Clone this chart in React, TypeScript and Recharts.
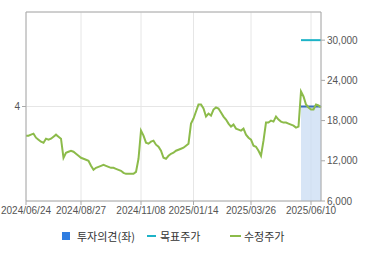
import { ComposedChart, Line, Area, XAxis, YAxis, CartesianGrid, ReferenceLine } from 'recharts'

// 수정주가, roughly every 2 trading days from 2024/06/24 to 2025/06
const prices = [
  15750, 15750, 15900, 16050, 15450, 15150, 14850, 14700, 15300, 15150,
  15300, 15600, 15900, 15600, 15300, 12450, 13200, 13350, 13500, 13350,
  13050, 12750, 12450, 12300, 12150, 12000, 11250, 10650, 10950, 11100,
  11250, 11400, 11250, 11100, 10950, 10950, 10800, 10650, 10500, 10200,
  10050, 10050, 10050, 10050, 10350, 12300, 16500, 15750, 14700, 14550,
  14850, 15000, 14400, 14100, 13500, 12450, 12300, 12750, 13050, 13200,
  13500, 13650, 13800, 13950, 14250, 14550, 17550, 18300, 19350, 20400,
  20400, 19800, 18600, 19050, 18750, 19650, 19950, 19800, 19200, 18600,
  18150, 17550, 17100, 17400, 16800, 16650, 16500, 16800, 15900, 15450,
  15150, 14250, 14100, 13500, 12750, 15000, 17700, 17700, 18000, 17850,
  18600, 18150, 17850, 17700, 17700, 17550, 17400, 17250, 16950, 17100,
  22350, 21600, 20400, 19950, 19650, 19650, 20400, 20250, 19950,
]

// 목표주가 / 투자의견 only exist for the last stretch
const targetPrice = [30000, 30000, 30000, 30000, 30000, 30000, 30000, 30000, 30000]
const opinion = [4, 4, 4, 4, 4, 4, 4, 4, 4]

const tickIdx = [0, 22, 46, 67, 90, 114]
const tickLabels = ['2024/06/24', '2024/08/27', '2024/11/08', '2025/01/14', '2025/03/26', '2025/06/10']
const rightTicks = [6000, 12000, 18000, 24000, 30000]
const RIGHT_MAX = 34200

const tailStart = prices.length - targetPrice.length

const data = prices.map((p, i) => ({
  i,
  price: p,
  target: i >= tailStart ? targetPrice[i - tailStart] : null,
  opinion: i >= tailStart ? opinion[i - tailStart] : null,
}))

const axisColor = '#aaaaaa'
const tickStyle = { fontSize: 10, fill: '#555', fontFamily: '"Liberation Sans", Arial, sans-serif' }

export default function App() {
  return (
    <div style={{ position: 'absolute', left: 0, top: 0, width: 370, height: 255, background: '#fff' }}>
      <ComposedChart width={370} height={255} data={data} margin={{ top: 12, right: 0, bottom: 34, left: 0 }}>
        <Area
          yAxisId="left"
          dataKey="opinion"
          type="linear"
          stroke="#3a6fb8"
          strokeWidth={2}
          fill="#c9dcf3"
          fillOpacity={0.75}
          isAnimationActive={false}
        />
        <CartesianGrid yAxisId="left" stroke="#e6e6e6" />
        <ReferenceLine yAxisId="right" y={RIGHT_MAX} stroke={axisColor} ifOverflow="visible" />
        <XAxis
          dataKey="i"
          type="number"
          domain={[0, prices.length - 1]}
          ticks={tickIdx}
          tickFormatter={(v) => tickLabels[tickIdx.indexOf(v)] ?? ''}
          interval={0}
          height={20}
          tickSize={4}
          stroke={axisColor}
          tick={tickStyle}
        />
        <YAxis
          yAxisId="left"
          orientation="left"
          domain={[3, 5]}
          ticks={[4]}
          width={26}
          tickSize={4}
          stroke={axisColor}
          tick={tickStyle}
        />
        <YAxis
          yAxisId="right"
          orientation="right"
          domain={[6000, RIGHT_MAX]}
          ticks={rightTicks}
          tickFormatter={(v) => v.toLocaleString('en-US')}
          width={49}
          tickSize={4}
          stroke={axisColor}
          tick={tickStyle}
        />
        <Line yAxisId="right" dataKey="target" stroke="#1db3c7" strokeWidth={2} dot={false} isAnimationActive={false} />
        <Line yAxisId="right" dataKey="price" stroke="#8cbb4a" strokeWidth={2} dot={false} isAnimationActive={false} />
      </ComposedChart>

      {/* legend */}
      <div style={{ position: 'absolute', top: 228, left: 0, width: 370, height: 16, fontSize: 11, color: '#333', fontFamily: '"Noto Sans CJK KR", sans-serif' }}>
        <span style={{ position: 'absolute', left: 62, top: 4, width: 8, height: 8, background: '#2f7de1' }} />
        <span style={{ position: 'absolute', left: 77, top: 0, lineHeight: '16px' }}>투자의견(좌)</span>
        <span style={{ position: 'absolute', left: 147, top: 7, width: 9, height: 2, background: '#1db3c7' }} />
        <span style={{ position: 'absolute', left: 160, top: 0, lineHeight: '16px' }}>목표주가</span>
        <span style={{ position: 'absolute', left: 230, top: 7, width: 11, height: 2, background: '#8cbb4a' }} />
        <span style={{ position: 'absolute', left: 244, top: 0, lineHeight: '16px' }}>수정주가</span>
      </div>
    </div>
  )
}
